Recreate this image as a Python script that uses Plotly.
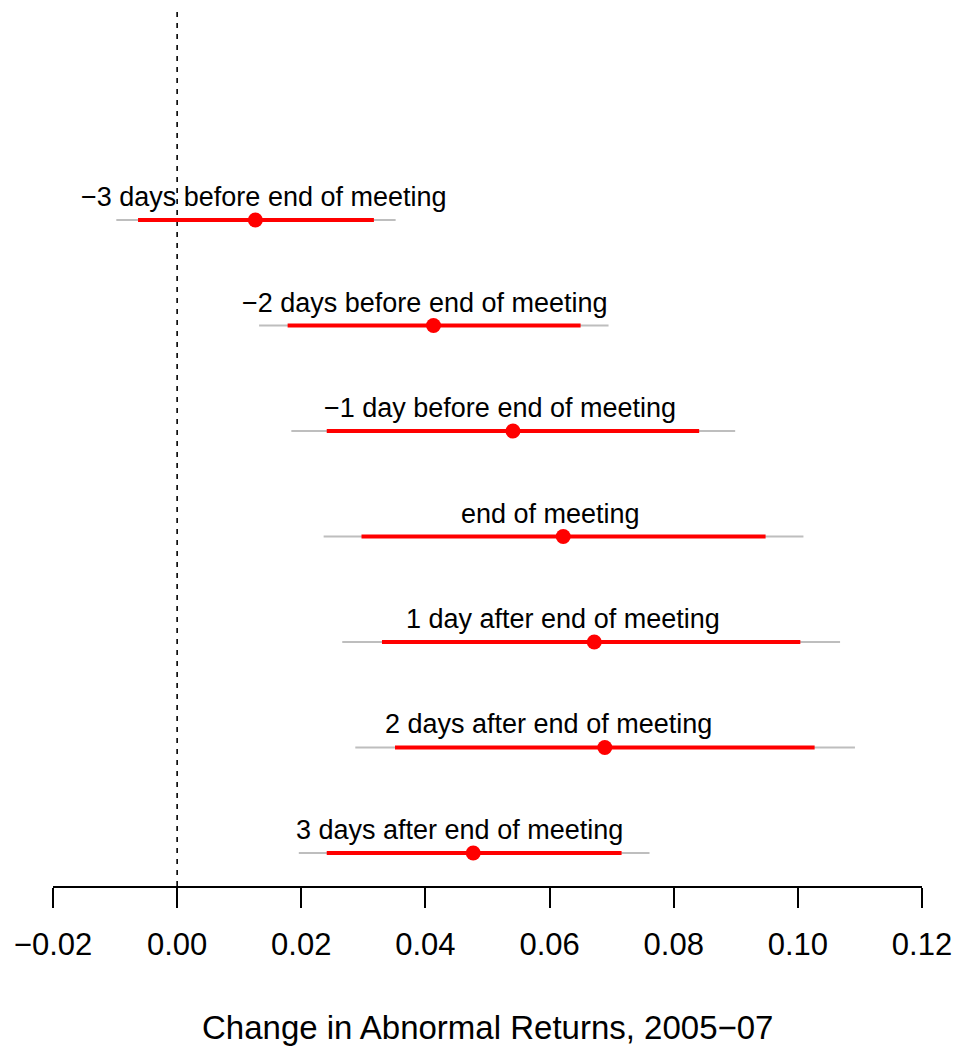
import plotly.graph_objects as go

# Event-window estimates of the change in abnormal returns, 2005-07
labels = [
    "\u22123 days before end of meeting",
    "\u22122 days before end of meeting",
    "\u22121 day before end of meeting",
    "end of meeting",
    "1 day after end of meeting",
    "2 days after end of meeting",
    "3 days after end of meeting",
]
estimate = [0.0126, 0.0413, 0.0541, 0.0622, 0.0672, 0.0689, 0.0477]
ci_inner_lo = [-0.0063, 0.0178, 0.0241, 0.0297, 0.0330, 0.0351, 0.0241]
ci_inner_hi = [0.0317, 0.0650, 0.0841, 0.0948, 0.1004, 0.1027, 0.0716]
ci_outer_lo = [-0.0098, 0.0132, 0.0184, 0.0236, 0.0266, 0.0287, 0.0196]
ci_outer_hi = [0.0352, 0.0695, 0.0899, 0.1009, 0.1068, 0.1092, 0.0761]
# horizontal anchor of each row's caption
label_x = [0.0140, 0.0400, 0.0520, 0.0601, 0.0621, 0.0599, 0.0455]

x_ticks = [-0.02, 0.00, 0.02, 0.04, 0.06, 0.08, 0.10, 0.12]
x_title = "Change in Abnormal Returns, 2005\u221207"

n = len(labels)
rows = list(range(n, 0, -1))  # first entry on top

FONT = "Liberation Sans, Arial, Helvetica, sans-serif"


def segments(lo, hi, ys):
    xs, yy = [], []
    for a, b, y in zip(lo, hi, ys):
        xs += [a, b, None]
        yy += [y, y, None]
    return xs, yy


fig = go.Figure()

ox, oy = segments(ci_outer_lo, ci_outer_hi, rows)
fig.add_trace(go.Scatter(x=ox, y=oy, mode="lines",
                         line=dict(color="#BEBEBE", width=2),
                         hoverinfo="skip", showlegend=False))

ix, iy = segments(ci_inner_lo, ci_inner_hi, rows)
fig.add_trace(go.Scatter(x=ix, y=iy, mode="lines",
                         line=dict(color="#FF0000", width=4),
                         hoverinfo="skip", showlegend=False))

fig.add_trace(go.Scatter(x=estimate, y=rows, mode="markers",
                         marker=dict(color="#FF0000", size=15, line=dict(width=0)),
                         showlegend=False))

# zero reference line
fig.add_shape(type="line", xref="x", yref="paper", x0=0, x1=0, y0=0, y1=1,
              line=dict(color="black", width=1.6, dash="5px,6px"), layer="below")

for lab, lx, y in zip(labels, label_x, rows):
    fig.add_annotation(x=lx, y=y, text=lab, showarrow=False,
                       xanchor="center", yanchor="middle", yshift=23,
                       font=dict(family=FONT, size=27, color="black"))

fig.add_annotation(x=0.5, xref="paper", y=-0.1606, yref="paper",
                   text=x_title, showarrow=False,
                   xanchor="center", yanchor="middle",
                   font=dict(family=FONT, size=33, color="black"))

fig.update_xaxes(range=[-0.02, 0.12], tickvals=x_ticks,
                 ticktext=[f"{v:.2f}".replace("-", "\u2212") for v in x_ticks],
                 showgrid=False, zeroline=False,
                 showline=True, linecolor="black", linewidth=2,
                 ticks="outside", ticklen=20, tickwidth=2, tickcolor="black",
                 ticklabelstandoff=10,
                 tickfont=dict(family=FONT, size=31, color="black"))
fig.update_yaxes(range=[0.687, 9.01], visible=False, showgrid=False, zeroline=False)

fig.update_layout(width=959, height=1046,
                  margin=dict(l=53, r=37, t=8, b=160),
                  plot_bgcolor="white", paper_bgcolor="white",
                  font=dict(family=FONT))

fig.write_html("out.html")
